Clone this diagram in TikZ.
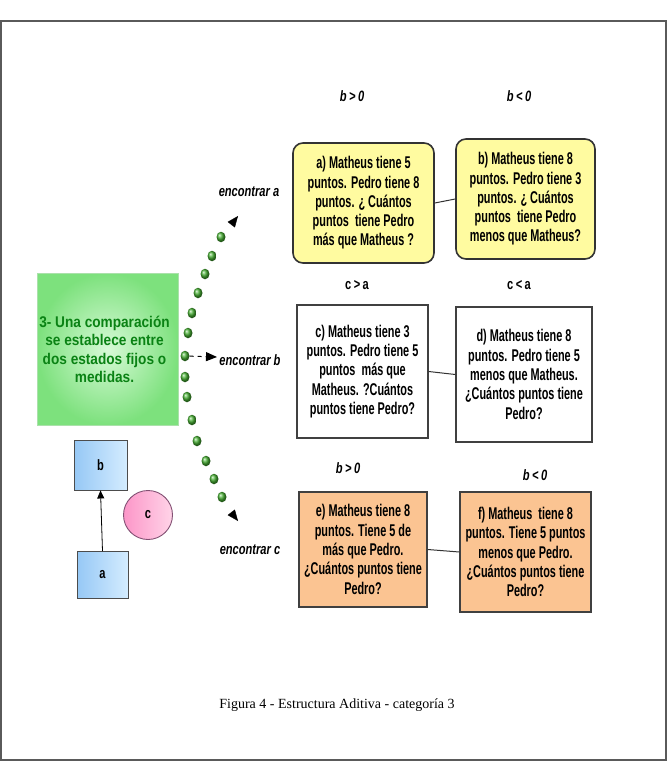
\documentclass[tikz,border=0pt]{standalone}
\usepackage{fontspec}
\usetikzlibrary{arrows.meta,shapes.geometric}
\newfontfamily\cnd[FakeStretch=0.64]{Liberation Sans}
\newfontfamily\cndl[FakeStretch=0.74]{Liberation Sans}
\newfontfamily\grn[FakeStretch=0.88]{Liberation Sans}
\newfontfamily\capf{Liberation Serif}
\definecolor{yel}{RGB}{255,251,160}
\definecolor{org}{RGB}{251,196,146}
\definecolor{dkgreen}{RGB}{10,130,20}
\definecolor{dotg}{RGB}{70,175,50}
\definecolor{framec}{RGB}{90,90,90}
\begin{document}
\begin{tikzpicture}[x=1pt,y=-1pt,
  txt/.style={font=\cnd\bfseries\fontsize{17}{19.3}\selectfont,align=center,inner sep=0pt},
  ybox/.style={txt,draw=black!80,line width=1.6pt,fill=yel,rounded corners=10pt},
  wbox/.style={txt,draw=black!75,line width=1.3pt,fill=white},
  obox/.style={txt,draw=black!75,line width=1.3pt,fill=org},
  cond/.style={font=\cndl\bfseries\itshape\fontsize{15}{16}\selectfont,inner sep=0pt},
  condup/.style={font=\cndl\bfseries\fontsize{15}{17}\selectfont,inner sep=0pt},
  enc/.style={font=\cndl\bfseries\itshape\fontsize{15}{17}\selectfont,inner sep=0pt},
  bluebox/.style={draw=black!70,line width=0.9pt,left color={rgb,255:red,150;green,200;blue,245},right color={rgb,255:red,212;green,236;blue,255},font=\cndl\bfseries\fontsize{15}{17}\selectfont},
  ball/.style={ellipse,inner sep=0pt,minimum width=9pt,minimum height=10.5pt,shading=ball,ball color=dotg},
  tip/.style={-{Triangle[length=11pt,width=9pt]},black}
]
\useasboundingbox (0,0) rectangle (669,762);
\draw[framec,line width=1.6pt] (1,21) rectangle (666,760);

% green box
\node[draw={rgb,255:red,170;green,225;blue,170},line width=0.6pt,minimum width=141pt,minimum height=152pt,
  shading=radial,inner color={rgb,255:red,215;green,250;blue,215},outer color={rgb,255:red,125;green,225;blue,125}] (g) at (107.5,349) {};
\node[font=\grn\bfseries\fontsize{15.5}{18.5}\selectfont,text=dkgreen,align=center,inner sep=0pt] (gt) at (104.5,349.5)
  {3- Una comparación\\se establece entre\\dos estados fijos o\\medidas.};

% dots
\foreach \i/\x/\y in {1/221/237,2/212/256,3/205/274,4/198/293,5/192/313,6/188/333,7/185/356,8/185/377,9/187/397,10/192/420,11/197/441,12/206/461,13/214/479,14/222/497}
  \node[ball] (d\i) at (\x,\y) {};
\coordinate (ta0) at (231,225); \coordinate (ta) at (238,216);
\coordinate (tc0) at (231,512); \coordinate (tc) at (238,521);
\coordinate (tb) at (217,357);
\draw[tip] (ta0) -- (ta);
\draw[tip] (tc0) -- (tc);
\draw[tip,dash pattern=on 4pt off 4pt,line width=1pt] (d7) -- (tb);

\node[enc] (ea) at (249,192) {encontrar a};
\node[enc] (eb) at (250,360) {encontrar b};
\node[enc] (ec) at (250,550) {encontrar c};

% labels
\node[cond] (l1) at (352,96) {b\,>\,0};
\node[cond] (l2) at (519,96) {b\,<\,0};
\node[condup] (l3) at (357,285) {c\,>\,a};
\node[condup] (l4) at (519,285) {c\,<\,a};
\node[cond] (l5) at (348,468) {b\,>\,0};
\node[cond] (l6) at (535,475) {b\,<\,0};

% boxes
\node[ybox,minimum width=141pt,minimum height=120pt] (A) at (363.5,203)
  {a) Matheus tiene 5\\puntos. Pedro tiene 8\\puntos. ¿ Cuántos\\puntos\ \ tiene Pedro\\más que Matheus ?};
\node[ybox,minimum width=139pt,minimum height=120pt] (B) at (525.5,199)
  {b) Matheus tiene 8\\puntos. Pedro tiene 3\\puntos. ¿ Cuántos\\puntos\ \ tiene Pedro\\menos que Matheus?};
\node[wbox,minimum width=131pt,minimum height=133pt] (C) at (362.5,371.5)
  {c) Matheus tiene 3\\puntos. Pedro tiene 5\\puntos\ \ más que\\Matheus. ?Cuántos\\puntos tiene Pedro?};
\node[wbox,minimum width=136pt,minimum height=135pt] (D) at (524,374.5)
  {d) Matheus tiene 8\\puntos. Pedro tiene 5\\menos que Matheus.\\¿Cuántos puntos tiene\\Pedro?};
\node[obox,minimum width=128pt,minimum height=115pt] (E) at (363,549.5)
  {e) Matheus tiene 8\\puntos. Tiene 5 de\\más que Pedro.\\¿Cuántos puntos tiene\\Pedro?};
\node[obox,minimum width=131pt,minimum height=120pt] (F) at (525.5,552)
  {f) Matheus\ \ tiene 8\\puntos. Tiene 5 puntos\\menos que Pedro.\\¿Cuántos puntos tiene\\Pedro?};
\draw[black!80,line width=1pt] (A.east) -- (B.west);
\draw[black!80,line width=1pt] (C.east) -- (D.west);
\draw[black!80,line width=1pt] (E.east) -- (F.west);

% small diagram
\node[bluebox,minimum width=53pt,minimum height=50pt] (nb) at (100.5,465) {b};
\node[bluebox,minimum width=51pt,minimum height=47pt] (na) at (102.5,575) {a};
\node[circle,draw={rgb,255:red,130;green,80;blue,115},line width=0.9pt,minimum size=49pt,
  left color={rgb,255:red,252;green,150;blue,200},right color={rgb,255:red,255;green,212;blue,232},
  font=\cndl\bfseries\fontsize{15}{17}\selectfont] (nc) at (148,515) {c};
\draw[-{Triangle[length=8pt,width=7pt]},line width=0.8pt] (na.north) -- (nb.south);

\node[font=\capf\fontsize{14}{16}\selectfont,inner sep=0pt] (cap) at (337,705) {Figura 4 - Estructura Aditiva - categoría 3};
\end{tikzpicture}
\end{document}
